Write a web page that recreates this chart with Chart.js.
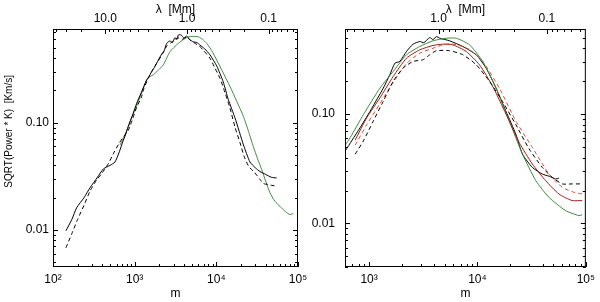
<!DOCTYPE html>
<html><head><meta charset="utf-8">
<script src="https://cdn.jsdelivr.net/npm/chart.js@4/dist/chart.umd.min.js"></script>
<style>
html,body{margin:0;padding:0;background:#fff;}
#wrap{position:relative;width:600px;height:302px;background:#fff;}
canvas{position:absolute;left:0;top:0;}
</style></head><body>
<div id="wrap"><canvas id="cL" width="600" height="302"></canvas><canvas id="cR" width="600" height="302"></canvas></div>
<script>
// ---------- data (m = harmonic degree, value = SQRT(Power*K) in km/s) ----------
const LEFT_SOLID_M = [144,170,195,240,284,350,413,500,574,640,693,760,836,950,1059,1200,1402,1500,1614,1750,1950,2150,2300,2466,2700,2900,3100,3300,3420,3700,4000,4335,4700,5200,5800,6310,7200,8360,10090,12160,14000,17000,21500,25800,30000,34300,40000,47000,54800];
const LEFT_SOLID_V = [0.0098,0.0125,0.0161,0.020,0.0247,0.031,0.037,0.040,0.043,0.052,0.062,0.075,0.092,0.12,0.152,0.19,0.251,0.27,0.30,0.33,0.385,0.44,0.47,0.551,0.58,0.56,0.62,0.60,0.659,0.66,0.62,0.644,0.60,0.57,0.56,0.53,0.49,0.43,0.34,0.24,0.165,0.11,0.062,0.043,0.038,0.035,0.033,0.031,0.0305];
const LEFT_DASH_M = [144,170,200,240,284,340,400,480,560,650,740,836,950,1059,1200,1300,1500,1700,1950,2200,2466,2800,3100,3420,3800,4335,4900,5500,6200,7000,8360,9500,11090,12800,14690,17000,19500,22000,25000,29700,34300,38000,43300,48000,54800];
const LEFT_DASH_V = [0.0068,0.0092,0.0125,0.017,0.023,0.029,0.034,0.042,0.053,0.065,0.075,0.085,0.11,0.14,0.17,0.21,0.27,0.32,0.38,0.44,0.52,0.56,0.60,0.62,0.60,0.63,0.58,0.55,0.52,0.47,0.40,0.33,0.26,0.19,0.137,0.09,0.065,0.048,0.039,0.034,0.0295,0.027,0.0265,0.026,0.0256];
const LEFT_GREEN_M = [661,762,877,1000,1107,1250,1402,1550,1690,1950,2243,2710,3420,4000,4540,5200,6010,6800,7620,8800,10100,12200,14690,17700,21400,24800,28370,32000,35900,40500,45400,52000,60100,70000,79800,87500];
const LEFT_GREEN_V = [0.062,0.077,0.103,0.13,0.158,0.20,0.251,0.27,0.28,0.31,0.347,0.461,0.551,0.60,0.635,0.64,0.635,0.60,0.551,0.47,0.385,0.29,0.218,0.16,0.115,0.083,0.060,0.046,0.0366,0.028,0.0222,0.0185,0.0166,0.0148,0.0139,0.0142];

const RIGHT_SOLID_M = [603,700,826,1021,1200,1354,1558,1732,1923,2216,2550,2937,3200,3628,3900,4180,4480,5530,7330,9730,12010,14840,18340,22630,26050,32150,39700,46000,52700,56500];
const RIGHT_SOLID_V = [0.0461,0.058,0.075,0.106,0.14,0.173,0.23,0.292,0.303,0.374,0.436,0.461,0.45,0.501,0.48,0.512,0.494,0.468,0.415,0.349,0.264,0.173,0.106,0.0653,0.043,0.0325,0.0283,0.027,0.0255,0.026];
const RIGHT_DASH_M = [745,887,1094,1352,1671,2065,2550,3148,3628,4180,5530,7330,9730,12880,17060,22630,30000,39700,49100,60700,75000,92500];
const RIGHT_DASH_V = [0.043,0.0569,0.0863,0.131,0.2,0.264,0.303,0.314,0.349,0.38,0.38,0.349,0.283,0.2,0.13,0.08,0.048,0.0325,0.0264,0.023,0.023,0.023];
const RIGHT_RED_M = [745,952,1262,1671,2216,2937,3890,4800,5930,7870,10420,13800,18340,24260,32150,42660,56500,74800,92500];
const RIGHT_RED_V = [0.058,0.0925,0.141,0.221,0.325,0.387,0.424,0.436,0.43,0.374,0.283,0.18,0.1,0.055,0.0349,0.0246,0.0186,0.0162,0.0162];
const RIGHT_REDDASH_M = [745,952,1262,1671,2216,2937,3890,4800,5530,6500,8450,11190,15920,22630,32150,45800,60700,75000,92500];
const RIGHT_REDDASH_V = [0.052,0.08,0.125,0.195,0.29,0.36,0.40,0.43,0.44,0.43,0.39,0.303,0.173,0.0863,0.0494,0.0283,0.0214,0.0195,0.0186];
const RIGHT_GREEN_M = [603,670,887,1262,1671,2216,2937,3890,5160,6380,8450,11190,14840,19680,26050,34580,45800,65100,86300,92500];
const RIGHT_GREEN_V = [0.052,0.061,0.099,0.173,0.246,0.349,0.415,0.468,0.494,0.494,0.43,0.303,0.173,0.0863,0.043,0.0246,0.0173,0.0131,0.0118,0.012];

// ---------- ticks ----------
const LEFT_X_TICKS = [1e2,1e3,1e4,1e5];
const LEFT_X_LABELS = ['10\u00B2','10\u00B3','10\u2074','10\u2075'];
const RIGHT_X_TICKS = [1e3,1e4,1e5];
const RIGHT_X_LABELS = ['10\u00B3','10\u2074','10\u2075'];
const Y_TICKS = [0.01,0.1];
const Y_LABELS = ['0.01','0.10'];
const LEFT_LAMBDA_TICKS = [10,1,0.1];
const LEFT_LAMBDA_LABELS = ['10.0','1.0','0.1'];
const RIGHT_LAMBDA_TICKS = [1,0.1];
const RIGHT_LAMBDA_LABELS = ['1.0','0.1'];
const SOLAR_CIRC_MM = 4373; // lambda [Mm] = 2*pi*R_sun / m

const FONT = "'Liberation Sans', Arial, Helvetica, sans-serif";
const BLACK = '#000000', GREEN = '#3d8c3d', RED = '#a81818', RED2 = '#d4502e';

function pts(m, v){ return m.map((x,i)=>({x:x, y:v[i]})); }
function ds(m, v, color, dashed){
  return {data: pts(m,v), borderColor: color, borderWidth: 1, pointRadius: 0, tension: 0.2,
          borderDash: dashed ? [4,3] : [], fill:false, xAxisID:'x', yAxisID:'y'};
}
function logSteps(min, max){
  const out=[];
  for(let k=Math.floor(Math.log10(min)); k<=Math.ceil(Math.log10(max)); k++)
    for(let j=1;j<=9;j++){ const v=j*Math.pow(10,k); if(v>=min*0.999 && v<=max*1.001) out.push({v:v, major:j===1}); }
  return out;
}
const frameTicks = {
  id:'frameTicks',
  afterDraw(chart){
    const {ctx, chartArea:a, scales} = chart;
    const sx = scales.x, sy = scales.y;
    ctx.save();
    ctx.strokeStyle='#000'; ctx.lineWidth=1;
    ctx.strokeRect(a.left+0.5, a.top+0.5, a.right-a.left-1, a.bottom-a.top-1);
    ctx.beginPath();
    logSteps(sx.min, sx.max).forEach(t=>{
      const p=Math.round(sx.getPixelForValue(t.v))+0.5, L=t.major?5:3;
      ctx.moveTo(p,a.bottom); ctx.lineTo(p,a.bottom-L);
    });
    logSteps(SOLAR_CIRC_MM/sx.max, SOLAR_CIRC_MM/sx.min).forEach(t=>{
      const p=Math.round(sx.getPixelForValue(SOLAR_CIRC_MM/t.v))+0.5, L=t.major?5:3;
      ctx.moveTo(p,a.top); ctx.lineTo(p,a.top+L);
    });
    logSteps(sy.min, sy.max).forEach(t=>{
      const p=Math.round(sy.getPixelForValue(t.v))+0.5, L=t.major?5:3;
      ctx.moveTo(a.left,p); ctx.lineTo(a.left+L,p);
      ctx.moveTo(a.right,p); ctx.lineTo(a.right-L,p);
    });
    ctx.stroke();
    ctx.restore();
  }
};

function makeChart(id, o){
  const tickFont = {family: FONT, size: 12};
  return new Chart(document.getElementById(id), {
    type:'line',
    data:{datasets:o.datasets},
    options:{
      responsive:false, animation:false, devicePixelRatio:1,
      layout:{padding:o.padding},
      plugins:{legend:{display:false}, tooltip:{enabled:false}},
      scales:{
        x:{type:'logarithmic', position:'bottom', min:o.xmin, max:o.xmax,
           grid:{display:false, drawTicks:false}, border:{display:false},
           afterBuildTicks:s=>{ s.ticks = o.xTicks.map(v=>({value:v})); },
           afterFit:s=>{ s.height = 35; },
           ticks:{autoSkip:false, maxRotation:0, padding:5, color:'#000', font:tickFont,
                  callback:(v,i)=>o.xLabels[i]},
           title:{display:true, text:'m', color:'#000', font:tickFont, padding:{top:0,bottom:1}}},
        x2:{type:'logarithmic', position:'top', min:o.xmin, max:o.xmax,
           grid:{display:false, drawTicks:false}, border:{display:false},
           afterBuildTicks:s=>{ s.ticks = o.lTicks.map(l=>({value:SOLAR_CIRC_MM/l})); },
           afterFit:s=>{ s.height = 29; },
           ticks:{autoSkip:false, maxRotation:0, padding:3, color:'#000', font:tickFont,
                  callback:(v,i)=>o.lLabels[i]},
           title:{display:true, text:'\u03BB  [Mm]', color:'#000', font:tickFont, padding:{top:2,bottom:0}}},
        y:{type:'logarithmic', position:'left', min:o.ymin, max:o.ymax,
           grid:{display:false, drawTicks:false}, border:{display:false},
           afterBuildTicks:s=>{ s.ticks = Y_TICKS.map(v=>({value:v})); },
           afterFit:s=>{ s.width = o.yWidth; },
           ticks:{autoSkip:false, padding:o.yPad, color:'#000', font:tickFont,
                  callback:(v,i)=>Y_LABELS[i]},
           title:o.yTitle ? {display:true, text:' '.repeat(12)+'SQRT(Power * K)  [Km/s]', color:'#000',
                  font:{family:FONT, size:10}, padding:{top:3,bottom:0}} : {display:false}}
      }
    },
    plugins:[frameTicks]
  });
}

makeChart('cL', {
  padding:{left:0, right:302, top:0, bottom:0},
  xmin:100, xmax:1e5, ymin:0.0045, ymax:0.75, yWidth:53, yPad:4, yTitle:true,
  xTicks:LEFT_X_TICKS, xLabels:LEFT_X_LABELS, lTicks:LEFT_LAMBDA_TICKS, lLabels:LEFT_LAMBDA_LABELS,
  datasets:[
    ds(LEFT_DASH_M, LEFT_DASH_V, BLACK, true),
    ds(LEFT_SOLID_M, LEFT_SOLID_V, BLACK, false),
    ds(LEFT_GREEN_M, LEFT_GREEN_V, GREEN, false)
  ]
});
makeChart('cR', {
  padding:{left:300, right:13, top:0, bottom:0},
  xmin:600, xmax:1e5, ymin:0.004, ymax:0.6, yWidth:45, yPad:10, yTitle:false,
  xTicks:RIGHT_X_TICKS, xLabels:RIGHT_X_LABELS, lTicks:RIGHT_LAMBDA_TICKS, lLabels:RIGHT_LAMBDA_LABELS,
  datasets:[
    ds(RIGHT_DASH_M, RIGHT_DASH_V, BLACK, true),
    ds(RIGHT_REDDASH_M, RIGHT_REDDASH_V, RED2, true),
    ds(RIGHT_RED_M, RIGHT_RED_V, RED, false),
    ds(RIGHT_GREEN_M, RIGHT_GREEN_V, GREEN, false),
    ds(RIGHT_SOLID_M, RIGHT_SOLID_V, BLACK, false)
  ]
});
</script>
</body></html>
